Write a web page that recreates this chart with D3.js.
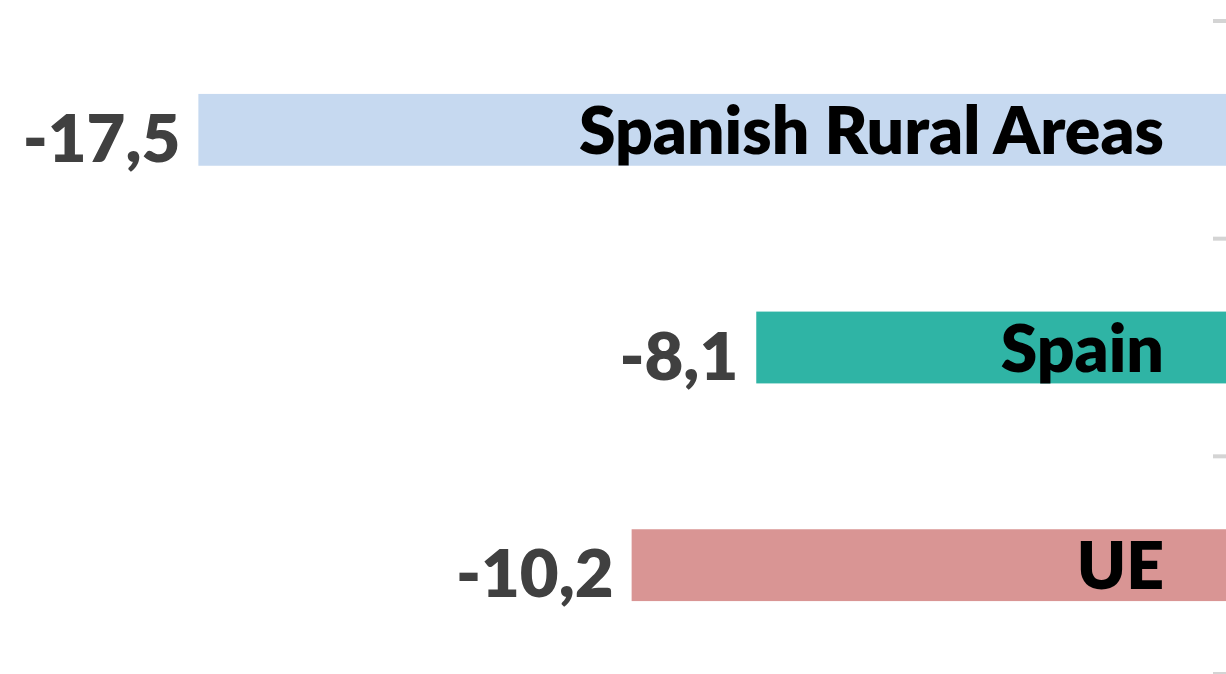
<!DOCTYPE html>
<html>
<head>
<meta charset="utf-8">
<script src="https://cdn.jsdelivr.net/npm/d3@7"></script>
<style>
  html, body { margin: 0; padding: 0; background: #fff; overflow: hidden; }
</style>
</head>
<body>
<div id="chart"></div>
<script>
// data
const categories = ["Spanish Rural Areas", "Spain", "UE"];
const values = [-17.5, -8.1, -10.2];
const barColors = ["#c6d9f0", "#2fb4a5", "#d99594"];

const width = 1226, height = 674;

const svg = d3.select("#chart")
    .append("svg")
    .attr("width", width)
    .attr("height", height);

// zero line sits just off the right edge of the picture
const x = d3.scaleLinear()
    .domain([-20, 0])
    .range([50, 1237]);

const y = d3.scaleBand()
    .domain(categories)
    .range([21, 674])
    .paddingInner(0.67)
    .paddingOuter(0.335);

const rows = categories.map((c, i) => ({ name: c, value: values[i], color: barColors[i] }));

// category boundary ticks on the (off-screen) value axis
const gap = (y.step() - y.bandwidth()) / 2;
const bounds = categories.map(c => y(c) - gap).concat([y(categories[categories.length - 1]) + y.bandwidth() + gap]);

svg.append("g")
    .selectAll("line")
    .data(bounds)
    .enter()
    .append("line")
    .attr("x1", x(0) - 24)
    .attr("x2", x(0))
    .attr("y1", d => d)
    .attr("y2", d => d)
    .style("stroke", "#d4d4d4")
    .style("stroke-width", 4);

// bars
svg.append("g")
    .selectAll("rect")
    .data(rows)
    .enter()
    .append("rect")
    .attr("x", d => x(d.value))
    .attr("y", d => y(d.name))
    .attr("width", d => x(0) - x(d.value))
    .attr("height", y.bandwidth())
    .style("fill", d => d.color);

// value labels, left of each bar
const fmt = v => d3.format(".1f")(v).replace(".", ",").replace("−", "-");

svg.append("g")
    .selectAll("text")
    .data(rows)
    .enter()
    .append("text")
    .attr("x", d => x(d.value) - 18)
    .attr("y", d => y(d.name) + y.bandwidth() / 2 + 32)
    .attr("text-anchor", "end")
    .style("font-family", "Lato, 'Open Sans', sans-serif")
    .style("font-weight", 800)
    .style("font-size", "67px")
    .style("fill", "#404040")
    .text(d => fmt(d.value));

// category names inside the bars
svg.append("g")
    .selectAll("text")
    .data(rows)
    .enter()
    .append("text")
    .attr("x", 1164)
    .attr("y", d => y(d.name) + y.bandwidth() / 2 + 24)
    .attr("text-anchor", "end")
    .style("font-family", "Lato, 'Open Sans', sans-serif")
    .style("font-weight", 800)
    .style("font-size", "66px")
    .style("fill", "#000")
    .text(d => d.name);
</script>
</body>
</html>
